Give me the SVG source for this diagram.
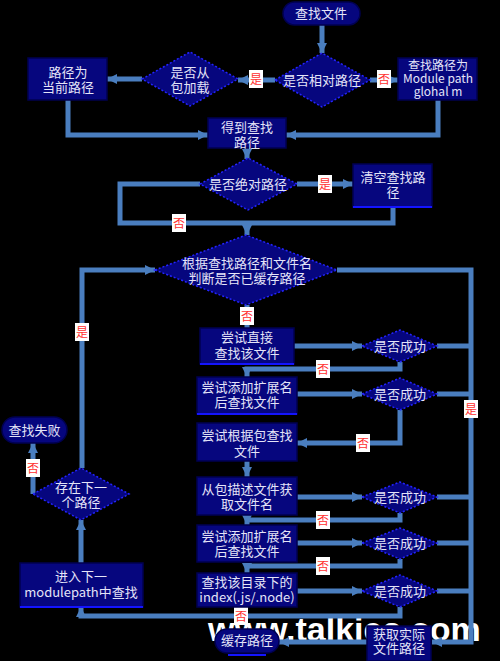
<svg xmlns="http://www.w3.org/2000/svg" width="500" height="661" viewBox="0 0 500 661">
<style>
.bg{fill:#000}
.box{fill:#06067e;stroke:#000050;stroke-width:1.5}
.dia{fill:#06067e;stroke:#2424ff;stroke-width:1.5;stroke-dasharray:2 2}
.t{fill:#e4e4f8;font-family:"Noto Sans CJK SC","Noto Sans",sans-serif;font-size:13px;text-anchor:middle}
.s{font-size:12px}
.c{stroke:#4a7ebf;stroke-width:5;fill:none}
.edge{stroke:#1414ff;stroke-width:2}
.lb rect{fill:#fff}
.lb text{fill:#ff3030;font-family:"Noto Sans CJK SC",sans-serif;font-size:12px;text-anchor:middle}
.wm{fill:#fff;font-family:"Liberation Sans",Arial,sans-serif;font-weight:bold;font-size:34px}
</style>
<defs>
<marker id="ah" viewBox="0 0 10 10" refX="10" refY="5" markerWidth="10" markerHeight="10" markerUnits="userSpaceOnUse" orient="auto">
<path d="M0,0 L10,5 L0,10 z" fill="#4a7ebf"/>
</marker>
</defs>
<rect class="bg" x="0" y="0" width="500" height="661"/>
<text class="wm" x="208" y="641">www.talkies.com</text>
<g id="connectors">
<path class="c" d="M322 25 V53" marker-end="url(#ah)"/>
<path class="c" d="M275 80 H238" marker-end="url(#ah)"/>
<path class="c" d="M370 80 H398" marker-end="url(#ah)"/>
<path class="c" d="M142 79 H107" marker-end="url(#ah)"/>
<path class="c" d="M68 100 V135 H208" marker-end="url(#ah)"/>
<path class="c" d="M438 100 V135 H286" marker-end="url(#ah)"/>
<path class="c" d="M247 148 V159" marker-end="url(#ah)"/>
<path class="c" d="M297 184 H353" marker-end="url(#ah)"/>
<path class="c" d="M200 184 H120 V223 H393 V207"/>
<path class="c" d="M247 223 V235" marker-end="url(#ah)"/>
<path class="c" d="M337 270 H471 V642 H432" marker-end="url(#ah)"/>
<path class="c" d="M247 305 V328" marker-end="url(#ah)"/>
<path class="c" d="M82 468 V270 H155" marker-end="url(#ah)"/>
<path class="c" d="M33 494 V443" marker-end="url(#ah)"/>
<path class="c" d="M81 563 V520" marker-end="url(#ah)"/>
<path class="c" d="M400 607 V616 H81 V607" marker-end="url(#ah)"/>
<path class="c" d="M294 346 H362" marker-end="url(#ah)"/>
<path class="c" d="M297 394 H362" marker-end="url(#ah)"/>
<path class="c" d="M297 497 H362" marker-end="url(#ah)"/>
<path class="c" d="M297 543 H362" marker-end="url(#ah)"/>
<path class="c" d="M297 591 H362" marker-end="url(#ah)"/>
<path class="c" d="M437 346 H471 M437 394 H471 M437 497 H471 M437 543 H471 M437 591 H471"/>
<path class="c" d="M400 362 V369 H247 V377" marker-end="url(#ah)"/>
<path class="c" d="M400 410 V443 H297" marker-end="url(#ah)"/>
<path class="c" d="M247 461 V477" marker-end="url(#ah)"/>
<path class="c" d="M400 513 V520 H247 V525" marker-end="url(#ah)"/>
<path class="c" d="M400 559 V566 H247 V573" marker-end="url(#ah)"/>
<path class="c" d="M367 642 H279" marker-end="url(#ah)"/>
<g class="lb"><rect x="249" y="70" width="14" height="18"/><text x="256" y="84">是</text></g>
<g class="lb"><rect x="377" y="70" width="14" height="18"/><text x="384" y="84">否</text></g>
<g class="lb"><rect x="318" y="175" width="14" height="18"/><text x="325" y="189">是</text></g>
<g class="lb"><rect x="172" y="214" width="14" height="18"/><text x="179" y="228">否</text></g>
<g class="lb"><rect x="464" y="400" width="14" height="18"/><text x="471" y="414">是</text></g>
<g class="lb"><rect x="240" y="307" width="14" height="18"/><text x="247" y="321">否</text></g>
<g class="lb"><rect x="75" y="323" width="14" height="18"/><text x="82" y="337">是</text></g>
<g class="lb"><rect x="26" y="459" width="14" height="18"/><text x="33" y="473">否</text></g>
<g class="lb"><rect x="234" y="607" width="14" height="18"/><text x="241" y="621">否</text></g>
<g class="lb"><rect x="316" y="360" width="14" height="18"/><text x="323" y="374">否</text></g>
<g class="lb"><rect x="356" y="434" width="14" height="18"/><text x="363" y="448">否</text></g>
<g class="lb"><rect x="316" y="511" width="14" height="18"/><text x="323" y="525">否</text></g>
<g class="lb"><rect x="316" y="557" width="14" height="18"/><text x="323" y="571">否</text></g>
</g>
<g id="n1"><rect class="box" x="283" y="2" width="77" height="23" rx="11.5"/><text class="t" x="321" y="18">查找文件</text></g>
<g id="n2"><polygon class="dia" points="275,80 322,53 370,80 322,107"/><text class="t" x="322" y="84.5">是否相对路径</text></g>
<g id="n3"><polygon class="dia" points="142,79 190,52 238,79 190,106"/><text class="t" x="190" y="76.5">是否从</text><text class="t" x="190" y="91.5">包加载</text></g>
<g id="n4"><rect class="box" x="28" y="58" width="79" height="42"/><text class="t" x="68" y="76.5">路径为</text><text class="t" x="68" y="91.5">当前路径</text></g>
<g id="n5"><rect class="box" x="398" y="58" width="79" height="42"/><text class="t s" x="438" y="70">查找路径为</text><text class="t s" x="438" y="83">Module path</text><text class="t s" x="438" y="95.5">glohal m</text></g>
<g id="n6"><rect class="box" x="208" y="118" width="78" height="30"/><text class="t" x="247" y="131.5">得到查找</text><text class="t" x="247" y="146.5">路径</text></g>
<g id="n7"><polygon class="dia" points="200,184 248,158 297,184 248,210"/><text class="t" x="248" y="188.5">是否绝对路径</text></g>
<g id="n8"><rect class="box" x="353" y="164" width="79" height="43"/><line class="edge" x1="353" y1="207" x2="432" y2="207"/><text class="t" x="393" y="181.5">清空查找路</text><text class="t" x="393" y="196.5">径</text></g>
<g id="n9"><polygon class="dia" points="155,270 246,235 337,270 246,305"/><text class="t" x="247" y="267.5">根据查找路径和文件名</text><text class="t" x="247" y="282.5">判断是否已缓存路径</text></g>
<g id="n10"><rect class="box" x="200" y="328" width="94" height="36"/><line class="edge" x1="200" y1="364" x2="294" y2="364"/><text class="t" x="247" y="341.5">尝试直接</text><text class="t" x="247" y="357.5">查找该文件</text></g>
<g id="n11"><polygon class="dia" points="362,346 400,330 437,346 400,362"/><text class="t" x="400" y="350.5">是否成功</text></g>
<g id="n12"><rect class="box" x="197" y="377" width="100" height="37"/><line class="edge" x1="197" y1="414" x2="297" y2="414"/><text class="t" x="247" y="391.5">尝试添加扩展名</text><text class="t" x="247" y="406.5">后查找文件</text></g>
<g id="n13"><polygon class="dia" points="362,394 400,378 437,394 400,410"/><text class="t" x="400" y="398.5">是否成功</text></g>
<g id="n14"><rect class="box" x="197" y="423" width="100" height="38"/><text class="t" x="247" y="439.5">尝试根据包查找</text><text class="t" x="247" y="455.5">文件</text></g>
<g id="n15"><rect class="box" x="197" y="477" width="100" height="38"/><text class="t" x="247" y="493.5">从包描述文件获</text><text class="t" x="247" y="508.5">取文件名</text></g>
<g id="n16"><polygon class="dia" points="362,497 400,482 437,497 400,513"/><text class="t" x="400" y="501.5">是否成功</text></g>
<g id="n17"><rect class="box" x="197" y="525" width="100" height="37"/><text class="t" x="247" y="540.5">尝试添加扩展名</text><text class="t" x="247" y="555.5">后查找文件</text></g>
<g id="n18"><polygon class="dia" points="362,543 400,528 437,543 400,559"/><text class="t" x="400" y="547.5">是否成功</text></g>
<g id="n19"><rect class="box" x="197" y="573" width="100" height="34"/><text class="t" x="247" y="586.5">查找该目录下的</text><text class="t" x="247" y="601.5">index(.js/.node)</text></g>
<g id="n20"><polygon class="dia" points="362,591 400,575 437,591 400,607"/><text class="t" x="400" y="595.5">是否成功</text></g>
<g id="n21"><rect class="box" x="367" y="626" width="64" height="35"/><text class="t" x="399" y="638.5">获取实际</text><text class="t" x="399" y="652.5">文件路径</text></g>
<g id="n22"><rect class="box" x="215" y="629" width="64" height="24" rx="12"/><line class="edge" x1="228" y1="655" x2="266" y2="655"/><text class="t" x="247" y="644.5">缓存路径</text></g>
<g id="n23"><rect class="box" x="20" y="563" width="123" height="44"/><line class="edge" x1="20" y1="607" x2="143" y2="607"/><text class="t" x="81" y="580.5">进入下一</text><text class="t" x="81" y="596.5">modulepath中查找</text></g>
<g id="n24"><polygon class="dia" points="33,494 81,468 129,494 81,520"/><text class="t" x="81" y="491.5">存在下一</text><text class="t" x="81" y="506.5">个路径</text></g>
<g id="n25"><rect class="box" x="2" y="417" width="65" height="26" rx="13"/><text class="t" x="34.5" y="434.5">查找失败</text></g>
</svg>
